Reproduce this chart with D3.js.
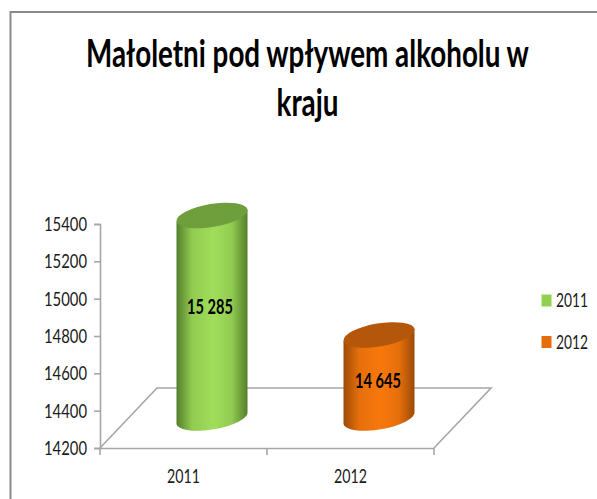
<!DOCTYPE html>
<html>
<head>
<meta charset="utf-8">
<script src="https://cdn.jsdelivr.net/npm/d3@7"></script>
<style>
html, body { margin: 0; padding: 0; background: #fff; }
svg { display: block; }
text { font-family: Lato, "Open Sans", sans-serif; fill: #1a1a1a; }
</style>
</head>
<body>
<svg id="chart" width="597" height="499"></svg>
<script>
const titleLines = ["Małoletni pod wpływem alkoholu w", "kraju"];
const categories = ["2011", "2012"];
const values = [15285, 14645];
const valueLabels = ["15 285", "14 645"];
const yTicks = [14200, 14400, 14600, 14800, 15000, 15200, 15400];
const colors = ["#92d050", "#e46c0a"];
const edgeColors = ["#557f2c", "#9c4a07"];
const midColors = ["#a0de5a", "#f8780c"];
const topColors = ["#6f9f3c", "#b4570a"];

const svg = d3.select("#chart");

// zwezenie tekstu do zadanej szerokosci, Calibri jest wezsze niz Lato
function squeeze(sel, width, anchorX) {
    sel.each(function() {
        const w = typeof width === "function" ? width(this.textContent) : width;
        const k = w / this.getComputedTextLength();
        const ax = anchorX !== undefined ? anchorX : +this.getAttribute("x") || 0;
        const prev = this.getAttribute("transform") || "";
        d3.select(this).attr("transform", `${prev} translate(${ax},0) scale(${k},1) translate(${-ax},0)`);
    });
}

// ramka wykresu
svg.append("path")
    .attr("d", "M10.5,499V12H597")
    .attr("fill", "none")
    .attr("stroke", "#8a8a8a")
    .attr("stroke-width", 2);

const x = d3.scaleBand().domain(categories).range([100, 434]);
const y = d3.scaleLinear().domain([14200, 15400]).range([448, 224]);

// glebokosc podlogi 3D
const depthX = 57, depthY = 60;
const floorY = y(14200);

const defs = svg.append("defs");
categories.forEach((c, i) => {
    const grad = defs.append("linearGradient").attr("id", "cyl" + i);
    grad.append("stop").attr("offset", "0%").attr("stop-color", edgeColors[i]);
    grad.append("stop").attr("offset", "22%").attr("stop-color", d3.interpolateRgb(edgeColors[i], midColors[i])(0.8));
    grad.append("stop").attr("offset", "52%").attr("stop-color", midColors[i]);
    grad.append("stop").attr("offset", "78%").attr("stop-color", d3.interpolateRgb(edgeColors[i], midColors[i])(0.8));
    grad.append("stop").attr("offset", "100%").attr("stop-color", edgeColors[i]);
});

// podloga
svg.append("path")
    .attr("d", `M100,${floorY}L${100 + depthX},${floorY - depthY}H${434 + depthX}L434,${floorY}`)
    .attr("fill", "none")
    .attr("stroke", "#a6a6a6")
    .attr("stroke-width", 1.6);

const yAxis = svg.append("g")
    .attr("transform", "translate(100,0)")
    .call(d3.axisLeft(y).tickValues(yTicks).tickFormat(d3.format("d")).tickSize(6).tickPadding(7));

const xAxis = svg.append("g")
    .attr("transform", `translate(0,${floorY})`)
    .call(d3.axisBottom(x).tickSize(0).tickPadding(21));

// znaczniki kategorii na granicach pasm
xAxis.selectAll(".edge")
    .data([100, x("2012"), 434])
    .enter().append("line")
    .attr("class", "edge")
    .attr("x1", d => d).attr("x2", d => d)
    .attr("y1", 0).attr("y2", 7)
    .attr("stroke", "#a6a6a6").attr("stroke-width", 1.6);

svg.selectAll(".domain").attr("stroke", "#a6a6a6").attr("stroke-width", 1.6);
yAxis.selectAll(".tick line").attr("stroke", "#a6a6a6").attr("stroke-width", 1.6);
yAxis.selectAll("text").attr("font-size", 20).call(squeeze, 43);
xAxis.selectAll("text").attr("font-size", 20).call(squeeze, 33);

// walce
const rx = 36, ry = 11.5, tilt = -9.5;
const ex = rx * Math.cos(tilt * Math.PI / 180);
const ey = rx * Math.sin(tilt * Math.PI / 180);
const baseY = floorY - depthY / 2;

const bars = svg.selectAll(".bar")
    .data(values)
    .enter().append("g")
    .attr("class", "bar")
    .attr("transform", (d, i) => `translate(${x(categories[i]) + x.bandwidth() / 2 + depthX / 2},0)`);

bars.append("path")
    .attr("d", d => {
        const top = y(d) - depthY / 2;
        return `M${-ex},${top - ey}L${ex},${top + ey}L${ex},${baseY + ey}` +
            `A${rx},${ry} ${tilt} 0 1 ${-ex},${baseY - ey}Z`;
    })
    .attr("fill", (d, i) => `url(#cyl${i})`);

bars.append("ellipse")
    .attr("rx", rx).attr("ry", ry)
    .attr("transform", d => `translate(0,${y(d) - depthY / 2}) rotate(${tilt})`)
    .attr("fill", (d, i) => topColors[i]);

const labelNudge = [[-2, -10], [-1, 5]];
bars.append("text")
    .attr("x", (d, i) => labelNudge[i][0])
    .attr("y", (d, i) => (y(d) - depthY / 2 + baseY) / 2 + labelNudge[i][1])
    .attr("dy", "0.35em")
    .attr("text-anchor", "middle")
    .attr("font-size", 20)
    .attr("font-weight", 700)
    .style("fill", "#000")
    .text((d, i) => valueLabels[i])
    .call(squeeze, 46);

// tytul
svg.selectAll(".title")
    .data(titleLines)
    .enter().append("text")
    .attr("class", "title")
    .attr("x", 307.5)
    .attr("y", (d, i) => 67 + i * 49)
    .attr("text-anchor", "middle")
    .attr("font-size", 38)
    .attr("font-weight", 700)
    .style("fill", "#000")
    .text(d => d)
    .call(squeeze, t => t === titleLines[0] ? 443 : 62);

// legenda
const legend = svg.selectAll(".legend")
    .data(categories)
    .enter().append("g")
    .attr("class", "legend")
    .attr("transform", (d, i) => `translate(541.5,${294.5 + i * 41.5})`);

legend.append("rect")
    .attr("width", 10).attr("height", 12)
    .attr("fill", (d, i) => colors[i]);

legend.append("text")
    .attr("x", 14.5).attr("y", 12.5)
    .attr("font-size", 20)
    .text(d => d)
    .call(squeeze, 32);
</script>
</body>
</html>
